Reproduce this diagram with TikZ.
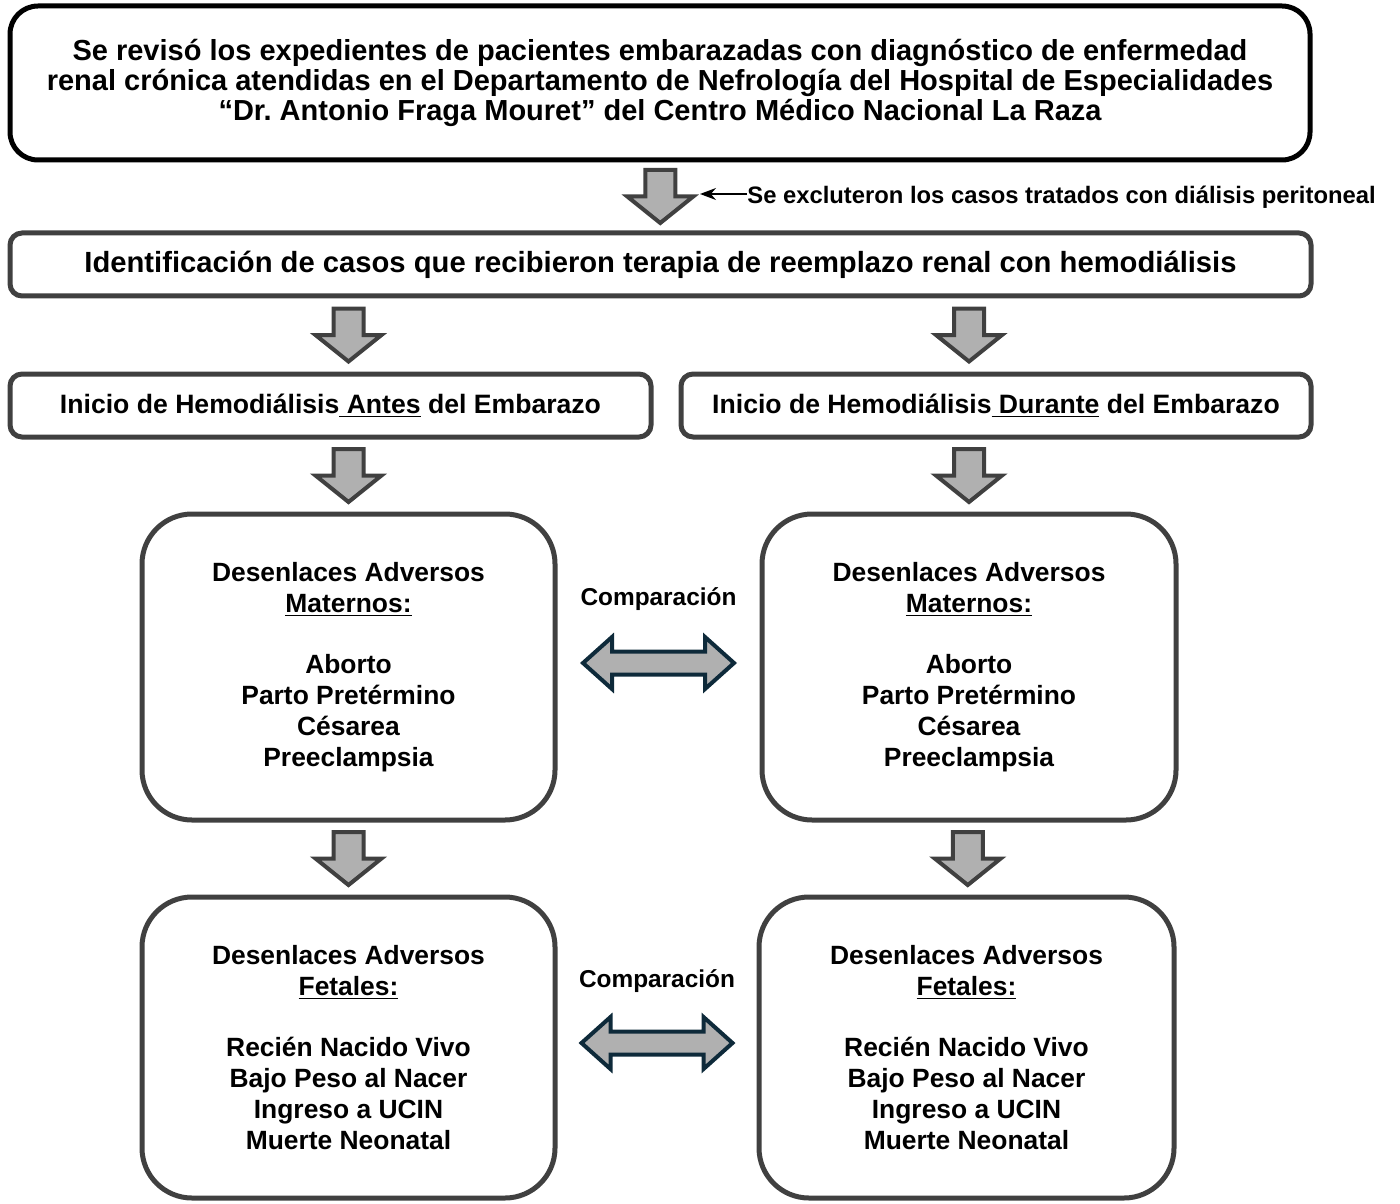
\documentclass[tikz,border=0pt]{standalone}
\usepackage{fontspec}
\setmainfont{Liberation Sans}
\usetikzlibrary{calc,arrows.meta}
\definecolor{bord}{HTML}{404040}
\definecolor{afill}{HTML}{B0B0B0}
\definecolor{navy}{HTML}{0E2A3A}
\begin{document}
\frenchspacing
\begin{tikzpicture}[x=0.5pt,y=-0.5pt,
  box/.style={draw=bord, line width=2.5pt, fill=white, rounded corners=6pt, align=center,
    inner sep=0pt, outer sep=0pt, font=\bfseries\fontsize{13.3}{16}\selectfont},
  bigbox/.style={box, rounded corners=25pt, font=\bfseries\fontsize{13.2}{15.4}\selectfont},
  lbl/.style={inner sep=0pt, font=\bfseries\fontsize{12.2}{14}\selectfont},
  darrow/.pic={\draw[line width=2pt, draw=bord, fill=afill]
    (-15,-26.5) -- (15,-26.5) -- (15,0) -- (33,0) -- (0,26.5) -- (-33,0) -- (-15,0) -- cycle;},
  dblarrow/.pic={\draw[line width=2pt, draw=navy, fill=afill]
    (-75.5,0) -- (-46.5,-26) -- (-46.5,-11.5) -- (46.5,-11.5) -- (46.5,-26) -- (75.5,0)
    -- (46.5,26) -- (46.5,11.5) -- (-46.5,11.5) -- (-46.5,26) -- cycle;}
]
\useasboundingbox (0,0) rectangle (1400,1203);

\node[box, draw=black, rounded corners=14pt, minimum width=650pt, minimum height=77pt,
  font=\bfseries\fontsize{14.5}{15.2}\selectfont] (top) at (660,83)
  {Se revisó los expedientes de pacientes embarazadas con diagnóstico de enfermedad\\
   renal crónica atendidas en el Departamento de Nefrología del Hospital de Especialidades\\
   “Dr. Antonio Fraga Mouret” del Centro Médico Nacional La Raza};

\node[box, minimum width=650.5pt, minimum height=31.5pt,
  font=\bfseries\fontsize{14.6}{16}\selectfont] (id) at (660.5,264.5)
  {Identificación de casos que recibieron terapia de reemplazo renal con hemodiálisis};

\node[box, minimum width=320.5pt, minimum height=31.5pt] (subL) at (330.5,405.5)
  {Inicio de Hemodiálisis\underline{\ Antes} del Embarazo};
\node[box, minimum width=315pt, minimum height=31.5pt] (subR) at (996,405.5)
  {Inicio de Hemodiálisis\underline{\ Durante} del Embarazo};

\node[bigbox, minimum width=206.5pt, minimum height=153pt] (bigL) at (348.5,667)
  {Desenlaces Adversos\\\underline{Maternos:}\\[15.4pt]Aborto\\Parto Pretérmino\\Césarea\\Preeclampsia};
\node[bigbox, minimum width=207pt, minimum height=153pt] (bigR) at (969,667)
  {Desenlaces Adversos\\\underline{Maternos:}\\[15.4pt]Aborto\\Parto Pretérmino\\Césarea\\Preeclampsia};

\node[bigbox, minimum width=206.5pt, minimum height=150.5pt] (botL) at (348.5,1047.5)
  {Desenlaces Adversos\\\underline{Fetales:}\\[15.4pt]Recién Nacido Vivo\\Bajo Peso al Nacer\\Ingreso a UCIN\\Muerte Neonatal};
\node[bigbox, minimum width=207.5pt, minimum height=150.5pt] (botR) at (966.5,1047.5)
  {Desenlaces Adversos\\\underline{Fetales:}\\[15.4pt]Recién Nacido Vivo\\Bajo Peso al Nacer\\Ingreso a UCIN\\Muerte Neonatal};

% block arrows
\pic at ($(top.south)!.5!(id.north)$) {darrow};
\pic at ($(bigL.north |- id.south)!.5!(bigL.north |- subL.north)$) {darrow};
\pic at ($(bigR.north |- id.south)!.5!(bigR.north |- subR.north)$) {darrow};
\pic at ($(subL.south -| bigL.north)!.5!(bigL.north)$) {darrow};
\pic at ($(subR.south -| bigR.north)!.5!(bigR.north)$) {darrow};
\pic at ($(bigL.south)!.5!(botL.north)$) {darrow};
\pic at ($(bigR.south)!.5!(botR.north)$) {darrow};

% comparisons
\pic at ($(bigL.east)!.5!(bigR.west)+(0,-4)$) {dblarrow};
\pic at ($(botL.east)!.5!(botR.west)+(0,-4.5)$) {dblarrow};
\node[lbl] (c1) at ($(bigL.east)!.5!(bigR.west)+(0,-68)$) {Comparación};
\node[lbl] (c2) at ($(botL.east)!.5!(botR.west)+(0,-66.5)$) {Comparación};

% exclusion
\node[lbl, font=\bfseries\fontsize{11.9}{14}\selectfont, anchor=base west] (ex) at (747,204)
  {Se excluteron los casos tratados con diálisis peritoneal};
\coordinate (exTip) at (700,194);
\draw[line width=0.75pt, -{Stealth[length=8pt,width=6pt]}] (ex.west |- exTip) -- (exTip);
\end{tikzpicture}
\end{document}
